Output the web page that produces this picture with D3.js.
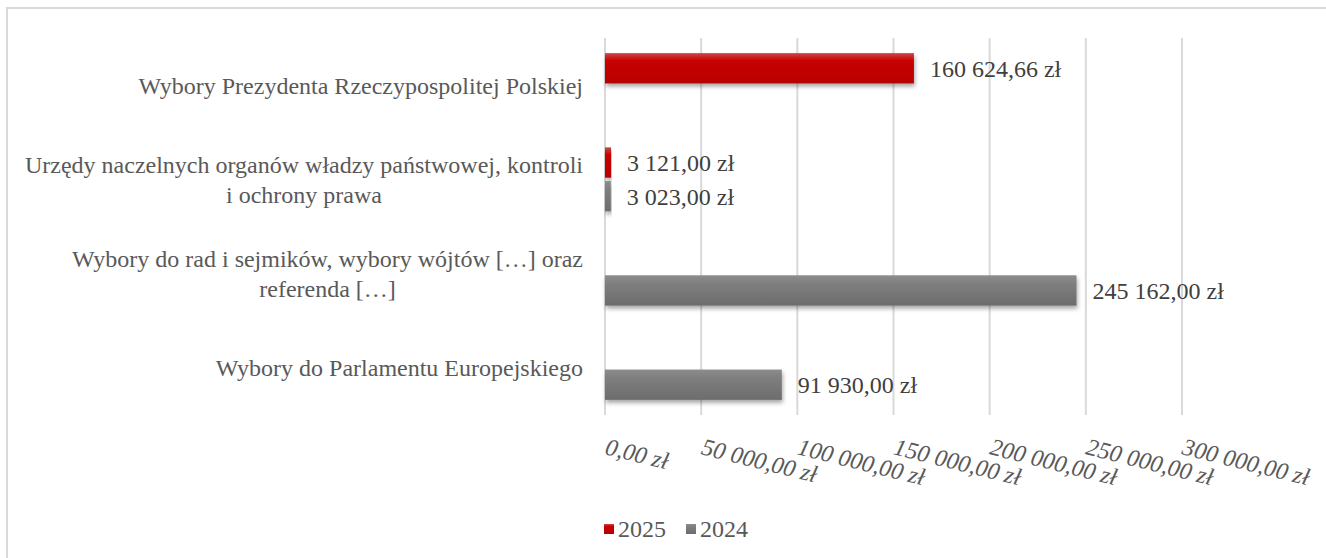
<!DOCTYPE html>
<meta charset="utf-8">
<style>
  body { margin: 0; background: #fff; }
  text { font-family: "Liberation Serif", "Times New Roman", serif; }
</style>
<body>
<script src="https://d3js.org/d3.v7.min.js"></script>
<script>

var width = 1326,
    height = 558;

// data, categories top to bottom
var categories = [
  ["Wybory Prezydenta Rzeczypospolitej Polskiej"],
  ["Urzędy naczelnych organów władzy państwowej, kontroli", "i ochrony prawa"],
  ["Wybory do rad i sejmików, wybory wójtów […] oraz", "referenda […]"],
  ["Wybory do Parlamentu Europejskiego"]
];
var series = ["2025", "2024"];
var values2025 = [160624.66, 3121.00, null, null];
var values2024 = [null, 3023.00, 245162.00, 91930.00];
var ticks = [0, 50000, 100000, 150000, 200000, 250000, 300000];

var fmt = function(v) {
  var s = v.toFixed(2).split(".");
  return s[0].replace(/\B(?=(\d{3})+(?!\d))/g, " ") + "," + s[1] + " zł";
};

var svg = d3.select("body").append("svg")
    .attr("width", width)
    .attr("height", height);

var defs = svg.append("defs");

function grad(id, stops) {
  var g = defs.append("linearGradient").attr("id", id)
      .attr("x1", 0).attr("y1", 0).attr("x2", 0).attr("y2", 1);
  stops.forEach(function(s) {
    g.append("stop").attr("offset", s[0]).attr("stop-color", s[1]);
  });
}
grad("g2025", [[0, "#cf4545"], [0.25, "#c80000"], [1, "#b80000"]]);
grad("g2024", [[0, "#8c8c8c"], [0.3, "#7e7e7e"], [1, "#6c6c6c"]]);

var shadow = defs.append("filter").attr("id", "shadow")
    .attr("x", "-5%").attr("y", "-30%").attr("width", "115%").attr("height", "180%");
shadow.append("feDropShadow")
    .attr("dx", 1).attr("dy", 3).attr("stdDeviation", 2)
    .attr("flood-color", "#000").attr("flood-opacity", 0.35);

// chart border
svg.append("rect")
    .attr("x", 7).attr("y", 8)
    .attr("width", width + 10).attr("height", height + 10)
    .attr("fill", "none")
    .attr("stroke", "#d9d9d9")
    .attr("stroke-width", 2);

var x = d3.scaleLinear().domain([0, 300000]).range([605, 1182]);
var y = d3.scaleBand().domain(d3.range(categories.length)).range([38, 415]);
var sub = d3.scaleBand().domain(series)
    .range([y.bandwidth() / 2 - 32, y.bandwidth() / 2 + 32])
    .paddingInner(0.1);

// gridlines
svg.append("g").selectAll("line")
    .data(ticks)
  .enter().append("line")
    .attr("x1", function(d) { return x(d); })
    .attr("x2", function(d) { return x(d); })
    .attr("y1", y.range()[0])
    .attr("y2", y.range()[1])
    .attr("stroke", "#d9d9d9")
    .attr("stroke-width", 2);

// tick labels
svg.append("g").selectAll("text")
    .data(ticks)
  .enter().append("text")
    .attr("transform", function(d) { return "translate(" + (x(d) - 1) + ",454) rotate(14)"; })
    .attr("font-size", 24)
    .attr("font-style", "italic")
    .attr("fill", "#595959")
    .text(fmt);

// category labels
var cat = svg.append("g").selectAll("text")
    .data(categories)
  .enter().append("text")
    .attr("font-size", 24)
    .attr("fill", "#595959")
    .attr("text-anchor", "middle");

cat.each(function(lines, i) {
  var t = d3.select(this);
  var cy = y(i) + y.bandwidth() / 2;
  var lh = 30;
  // measure widest line to right-align the block at x=583
  var tmp = t.append("tspan").text(lines[0]);
  var w = 0;
  lines.forEach(function(l) {
    tmp.text(l);
    w = Math.max(w, tmp.node().getComputedTextLength());
  });
  tmp.remove();
  var cx = 583 - w / 2;
  lines.forEach(function(l, j) {
    t.append("tspan")
        .attr("x", cx)
        .attr("y", cy + (j - (lines.length - 1) / 2) * lh)
        .attr("dy", "0.35em")
        .text(l);
  });
});

// bars
var data = [];
categories.forEach(function(c, i) {
  data.push({ i: i, s: "2025", v: values2025[i] });
  data.push({ i: i, s: "2024", v: values2024[i] });
});
data = data.filter(function(d) { return d.v != null; });

svg.append("g").selectAll("rect")
    .data(data)
  .enter().append("rect")
    .attr("x", x(0))
    .attr("y", function(d) { return y(d.i) + sub(d.s); })
    .attr("width", function(d) { return Math.max(x(d.v) - x(0), 1); })
    .attr("height", sub.bandwidth())
    .attr("fill", function(d) { return "url(#g" + d.s + ")"; })
    .attr("filter", "url(#shadow)");

svg.append("g").selectAll("text")
    .data(data)
  .enter().append("text")
    .attr("x", function(d) { return x(d.v) + 16; })
    .attr("y", function(d) { return y(d.i) + sub(d.s) + sub.bandwidth() / 2; })
    .attr("dy", "0.35em")
    .attr("font-size", 24)
    .attr("fill", "#404040")
    .text(function(d) { return fmt(d.v); });

// legend
var legend = svg.append("g").attr("transform", "translate(604,529)");
var lx = [0, 82];
series.forEach(function(s, i) {
  var g = legend.append("g").attr("transform", "translate(" + lx[i] + ",0)");
  g.append("rect")
      .attr("x", 0).attr("y", -5)
      .attr("width", 10).attr("height", 10)
      .attr("fill", "url(#g" + s + ")");
  g.append("text")
      .attr("x", 14)
      .attr("dy", "0.35em")
      .attr("font-size", 24)
      .attr("fill", "#595959")
      .text(s);
});

</script>
</body>
